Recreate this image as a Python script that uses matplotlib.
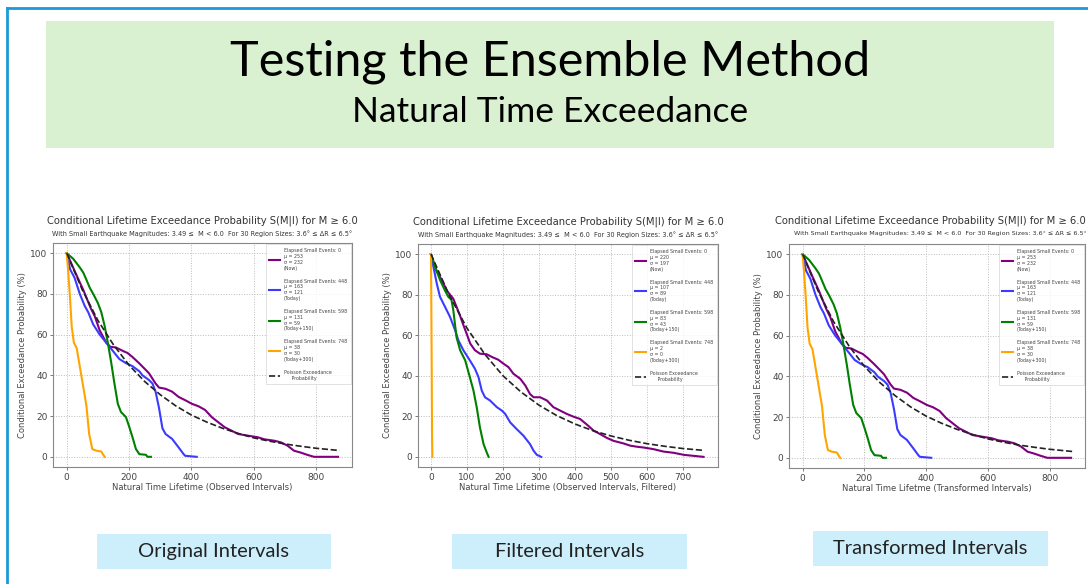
import matplotlib.pyplot as plt
from matplotlib.patches import Rectangle
from matplotlib.lines import Line2D

# ---- data ----
# original / transformed intervals (the two panels show the same curves)
now_x = [0, 32, 53, 77, 90, 106, 127, 140, 158, 180, 195, 211, 232, 254, 264, 285, 296, 317, 338, 359,
         380, 402, 423, 444, 465, 486, 507, 528, 550, 581, 613, 634, 666, 687, 708, 729, 750, 771, 793, 870]
now_y = [100, 89, 82, 73, 69, 62, 56, 54, 53.7, 52, 51, 49, 46, 42.6, 41, 36, 34, 33.4, 32, 29.4,
         27.8, 26, 24.8, 23, 19.5, 17, 14.5, 12.9, 11.2, 10.4, 9.6, 8.6, 7.9, 7.1, 5.5, 3.0, 2.1, 1, 0, 0]
today_x = [0, 11, 25, 42, 58, 69, 85, 106, 127, 148, 169, 190, 211, 233, 243, 264, 275, 285, 296, 307,
           317, 338, 359, 375, 380, 417]
today_y = [100, 92, 88, 80, 74, 71, 65, 60, 56, 52, 48, 46, 44.5, 42, 40, 37.7, 36, 32, 24, 14,
           11.2, 8.8, 4.6, 1.3, 0.5, 0]
t150_x = [0, 21, 42, 53, 63, 74, 85, 100, 111, 122, 132, 143, 153, 164, 174, 190, 201, 211, 222, 233,
          254, 259, 270]
t150_y = [100, 97.2, 93, 90.5, 87, 83, 80, 75.5, 71, 64, 55.9, 46, 36, 26, 22, 19.5, 14.5, 9.6,
          3.8, 1.3, 1, 0, 0]
t300_x = [0, 5, 11, 16, 23, 32, 42, 53, 63, 72, 82, 95, 111, 116, 122]
t300_y = [100, 90.6, 77, 64, 56, 53.4, 44.3, 34.4, 25.3, 11.2, 3.8, 3.0, 2.6, 1.3, 0]
pois_x = [0, 50, 100, 150, 200, 250, 300, 350, 400, 450, 500, 550, 600, 650, 700, 750, 800, 875]
pois_y = [100, 82, 67, 55, 45, 37, 30.5, 25, 20.5, 17, 14, 11.5, 9.3, 7.7, 6.3, 5.2, 4.2, 3.1]

# filtered intervals
f_now_x = [0, 16, 30, 44, 62, 80, 90, 99, 109, 122, 136, 155, 169, 187, 201, 215, 229, 248, 262, 275,
           285, 303, 322, 340, 359, 377, 396, 414, 433, 452, 470, 489, 507, 535, 554, 572, 591, 618,
           646, 674, 702, 757]
f_now_y = [100, 91.4, 87.3, 82, 78, 70, 65, 60.8, 55.9, 52.6, 50.9, 50.6, 49.3, 47.9, 46, 44.3, 41,
           38.5, 35.2, 31, 29.4, 29.4, 27.8, 24.5, 22.8, 21.2, 19.8, 18.7, 15.9, 12.9, 11.2, 9.3, 7.9,
           6.6, 5.5, 5, 4.6, 3.8, 2.6, 2, 1, 0]
f_today_x = [0, 6.5, 16, 25, 39, 53, 67, 76, 90, 108, 122, 132, 141, 150, 164, 183, 197, 206, 220, 238,
             257, 275, 285, 294, 306]
f_today_y = [100, 94, 85.6, 79, 74, 69, 62.5, 57.5, 52.6, 47.6, 43.5, 39.3, 32.7, 29.4, 27.8, 24.5,
             22.8, 21.2, 17, 13.7, 10.4, 6.3, 3, 1, 0]
f_t150_x = [0, 11, 25, 39, 48, 57, 62, 71, 81, 95, 108, 118, 127, 136, 146, 155, 160]
f_t150_y = [100, 94, 87.3, 82, 79, 77.4, 72.4, 59, 52.6, 47.6, 39.3, 32.7, 24.5, 14.5, 6.3, 2.1, 0]
f_t300_x = [0, 1, 2, 3, 4]
f_t300_y = [100, 75, 45, 10, 0]
f_pois_x = [0, 50, 100, 150, 200, 250, 300, 350, 400, 450, 500, 550, 600, 650, 700, 757]
f_pois_y = [100, 80, 63.5, 50.5, 40, 32, 25.5, 20.3, 16.2, 12.9, 10.3, 8.2, 6.5, 5.2, 4.1, 3.2]

events = ['0', '448', '598', '748']
periods = ['(Now)', '(Today)', '(Today+150)', '(Today+300)']
mu_orig = [253, 163, 131, 38]
sd_orig = [232, 121, 59, 30]
mu_filt = [220, 107, 83, 2]
sd_filt = [197, 89, 43, 0]
colors = ['purple', '#3b3bff', 'green', 'orange']

xlabels = ['Natural Time Lifetime (Observed Intervals)',
           'Natural Time Lifetime (Observed Intervals, Filtered)',
           'Natural Time Lifetme (Transformed Intervals)']
captions = ['Original Intervals', 'Filtered Intervals', 'Transformed Intervals']

title = 'Conditional Lifetime Exceedance Probability S(M|I) for M \u2265 6.0'
subtitle = ('With Small Earthquake Magnitudes: 3.49 \u2264  M < 6.0  '
            'For 30 Region Sizes: 3.6\u00b0 \u2264 \u0394R \u2264 6.5\u00b0')

W, H = 1088, 584
fig = plt.figure(figsize=(W / 100, H / 100), dpi=100)


def box(x0, y0, x1, y1):
    # pixel box (top-left origin) -> figure fraction
    return [x0 / W, 1 - y1 / H, (x1 - x0) / W, (y1 - y0) / H]


# slide frame and header
fig.add_artist(Line2D([7 / W, 1], [1 - 8 / H] * 2, color='#1a9ad6', lw=2))
fig.add_artist(Line2D([7 / W] * 2, [0, 1 - 8 / H], color='#1a9ad6', lw=2))
b = box(46, 21, 1054, 148)
fig.add_artist(Rectangle((b[0], b[1]), b[2], b[3], color='#d9f1d1', lw=0))
fig.text(550 / W, 1 - 62 / H, 'Testing the Ensemble Method', ha='center', va='center',
         fontsize=35, family='Lato', color='black')
fig.text(550 / W, 1 - 112 / H, 'Natural Time Exceedance', ha='center', va='center',
         fontsize=25.5, family='Lato', color='black')

cap_boxes = [(97, 534, 331, 569), (452, 534, 687, 569), (813, 531, 1048, 566)]
for (x0, y0, x1, y1), txt in zip(cap_boxes, captions):
    b = box(x0, y0, x1, y1)
    fig.add_artist(Rectangle((b[0], b[1]), b[2], b[3], color='#cdeefb', lw=0))
    fig.text((x0 + x1) / 2 / W, 1 - (y0 + y1) / 2 / H, txt, ha='center', va='center',
             fontsize=14.5, family='Lato', color='#222222')

axes_px = [(53, 243, 352, 467), (418, 244, 718, 467), (789, 244, 1085, 468)]
panels = [
    ([now_x, today_x, t150_x, t300_x], [now_y, today_y, t150_y, t300_y], pois_x, pois_y,
     mu_orig, sd_orig, (-44, 915), [0, 200, 400, 600, 800]),
    ([f_now_x, f_today_x, f_t150_x, f_t300_x], [f_now_y, f_today_y, f_t150_y, f_t300_y],
     f_pois_x, f_pois_y, mu_filt, sd_filt, (-36, 797), [0, 100, 200, 300, 400, 500, 600, 700]),
    ([now_x, today_x, t150_x, t300_x], [now_y, today_y, t150_y, t300_y], pois_x, pois_y,
     mu_orig, sd_orig, (-44, 915), [0, 200, 400, 600, 800]),
]

txtc = '#444444'
for i, (xs, ys, px, py, mus, sds, xlim, xticks) in enumerate(panels):
    ax = fig.add_axes(box(*axes_px[i]))
    for k in range(4):
        lab = (f'Elapsed Small Events: {events[k]}\n\u03bc = {mus[k]}\n'
               f'\u03c3 = {sds[k]}\n{periods[k]}')
        ax.plot(xs[k], ys[k], color=colors[k], lw=1.5, label=lab)
    ax.plot(px, py, color='#222222', ls='--', lw=1.2, label='Poisson Exceedance\n     Probability')
    ax.set_xlim(*xlim)
    ax.set_ylim(-5, 105)
    ax.set_xticks(xticks)
    ax.set_yticks([0, 20, 40, 60, 80, 100])
    ax.grid(True, ls=':', color='#bbbbbb', lw=0.7)
    for s in ax.spines.values():
        s.set_color('#888888')
        s.set_linewidth(0.8)
    ax.tick_params(labelsize=6.5, colors=txtc, length=2, width=0.5, pad=2)
    ax.set_xlabel(xlabels[i], fontsize=6, color=txtc, labelpad=1)
    ax.set_ylabel('Conditional Exceedance Probability (%)', fontsize=6, color=txtc, labelpad=2)
    if i == 2:
        # last panel runs to the slide edge: keep its headings inside the picture
        fig.text(1086 / W, 1 - 221 / H, title, ha='right', va='center', fontsize=7.2, color='#333333')
        fig.text(1087 / W, 1 - 234 / H, subtitle, ha='right', va='center', fontsize=4.6,
                 color='#333333')
    else:
        ax.text(0.5, 1.10, title, transform=ax.transAxes, ha='center', va='center',
                fontsize=7.2, color='#333333')
        ax.text(0.5, 1.04, subtitle, transform=ax.transAxes, ha='center', va='center',
                fontsize=4.7, color='#333333')
    leg = ax.legend(loc='upper right', fontsize=3.4, handlelength=2.2, labelspacing=1.7,
                    borderpad=0.8, borderaxespad=0.3, frameon=True, fancybox=False)
    leg.get_frame().set_edgecolor('#cccccc')
    leg.get_frame().set_linewidth(0.5)
    for t in leg.get_texts():
        t.set_color('#444444')

fig.savefig('out.png', dpi=100)
